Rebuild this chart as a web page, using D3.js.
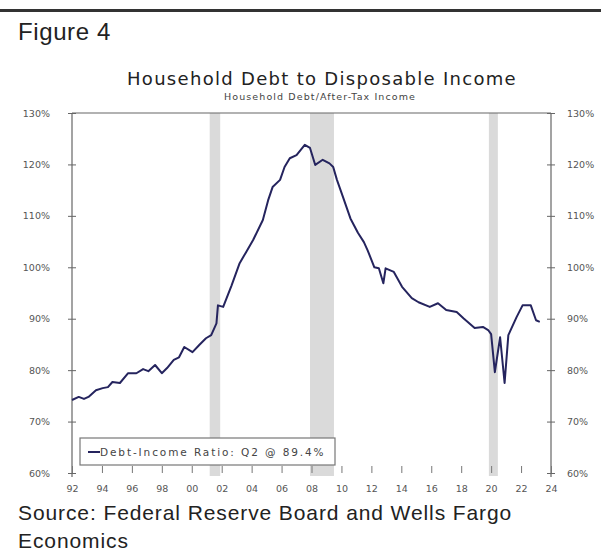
<!DOCTYPE html>
<html>
<head>
<meta charset="utf-8">
<script src="https://cdn.jsdelivr.net/npm/d3@7"></script>
<style>
  body { margin: 0; background: #fff; }
  svg { display: block; }
</style>
</head>
<body>
<script>
// debt / disposable income (year, %)
const years = [1992.0, 1992.45, 1992.8, 1993.1, 1993.6, 1994.05, 1994.4, 1994.7, 1995.2, 1995.75,
  1996.3, 1996.75, 1997.1, 1997.55, 1998.0, 1998.35, 1998.8, 1999.15, 1999.5, 2000.05,
  2000.5, 2000.95, 2001.3, 2001.65, 2001.75, 2002.1, 2002.65, 2003.2, 2003.6, 2004.1,
  2004.75, 2005.1, 2005.4, 2005.9, 2006.2, 2006.55, 2007.0, 2007.55, 2007.9, 2008.25,
  2008.75, 2009.2, 2009.45, 2009.7, 2010.1, 2010.6, 2011.1, 2011.5, 2011.75, 2012.2,
  2012.5, 2012.8, 2012.95, 2013.5, 2014.05, 2014.7, 2015.15, 2015.9, 2016.45, 2017.0,
  2017.7, 2018.15, 2018.9, 2019.45, 2019.8, 2020.0, 2020.25, 2020.6, 2020.9, 2021.15,
  2021.7, 2022.1, 2022.65, 2023.0, 2023.25];
const ratio = [74.2, 74.8, 74.4, 74.8, 76.1, 76.5, 76.7, 77.7, 77.5, 79.4,
  79.4, 80.2, 79.8, 81.0, 79.4, 80.4, 82.0, 82.5, 84.5, 83.5,
  84.9, 86.2, 86.8, 89.1, 92.6, 92.3, 96.4, 100.8, 102.8, 105.3,
  109.2, 113.0, 115.6, 117.0, 119.5, 121.2, 121.8, 123.8, 123.2, 119.9,
  120.9, 120.2, 119.5, 117.0, 113.7, 109.5, 106.7, 104.9, 103.3, 100.0,
  99.8, 96.9, 99.8, 99.1, 96.2, 94.0, 93.2, 92.3, 93.0, 91.7,
  91.3, 90.1, 88.2, 88.4, 87.8, 87.0, 79.6, 86.4, 77.5, 86.8,
  90.3, 92.6, 92.6, 89.7, 89.4];

// recessions (start, end)
const recStart = [2001.2, 2007.9, 2019.85];
const recEnd = [2001.9, 2009.5, 2020.45];

const yTicks = [60, 70, 80, 90, 100, 110, 120, 130];
const xTicks = [1992, 1994, 1996, 1998, 2000, 2002, 2004, 2006, 2008, 2010, 2012, 2014, 2016, 2018, 2020, 2022, 2024];

const W = 601, H = 558;
const svg = d3.select("body").append("svg").attr("width", W).attr("height", H);

const x = d3.scaleLinear().domain([1992, 2024]).range([72, 551]);
const y = d3.scaleLinear().domain([60, 130]).range([473, 113]);

// top rule
svg.append("rect").attr("x", 0).attr("y", 9).attr("width", W).attr("height", 3).attr("fill", "#333");

svg.append("text").attr("x", 18).attr("y", 40)
  .attr("font-family", "Liberation Sans, Arial, sans-serif").attr("font-size", 24).attr("fill", "#222")
  .attr("letter-spacing", 0.6)
  .text("Figure 4");

svg.append("text").attr("x", 322).attr("y", 85).attr("text-anchor", "middle")
  .attr("font-family", "DejaVu Sans, Verdana, sans-serif").attr("font-size", 18).attr("fill", "#222")
  .attr("letter-spacing", 1.3)
  .text("Household Debt to Disposable Income");
svg.append("text").attr("x", 320).attr("y", 100).attr("text-anchor", "middle")
  .attr("font-family", "DejaVu Sans, Verdana, sans-serif").attr("font-size", 9.5).attr("fill", "#444")
  .attr("letter-spacing", 1.1)
  .text("Household Debt/After-Tax Income");

// recession bands
svg.append("g").selectAll("rect").data(recStart).join("rect")
  .attr("x", (d) => x(d))
  .attr("width", (d, i) => x(recEnd[i]) - x(d))
  .attr("y", y(130)).attr("height", y(60) - y(130) + 3)
  .attr("fill", "#dadada");

// top border
svg.append("line").attr("x1", x(1992)).attr("x2", x(2024)).attr("y1", y(130)).attr("y2", y(130))
  .attr("stroke", "#666").attr("stroke-width", 1.2);

const fmt = (d) => d + "%";
const tickFont = (g) => g.selectAll("text")
  .attr("font-family", "DejaVu Sans, Verdana, sans-serif").attr("font-size", 9.5).attr("fill", "#555");

const left = svg.append("g").attr("transform", `translate(${x(1992)},0)`)
  .call(d3.axisLeft(y).tickValues(yTicks).tickFormat(fmt).tickSize(4).tickPadding(18));
left.select(".domain").attr("d", `M0,${y(130)}V${y(60) + 4}`).attr("stroke", "#666").attr("stroke-width", 1.2);
left.selectAll(".tick line").attr("x1", 4).attr("stroke", "#666");
left.call(tickFont);

const right = svg.append("g").attr("transform", `translate(${x(2024)},0)`)
  .call(d3.axisRight(y).tickValues(yTicks).tickFormat(fmt).tickSize(4).tickPadding(12));
right.select(".domain").attr("d", `M0,${y(130)}V${y(60) + 4}`).attr("stroke", "#666").attr("stroke-width", 1.2);
right.selectAll(".tick line").attr("x1", -4).attr("stroke", "#666");
right.call(tickFont);

const bottom = svg.append("g").attr("transform", `translate(0,${y(60)})`)
  .call(d3.axisBottom(x).tickValues(xTicks).tickFormat((d) => String(d).slice(2)).tickSize(0).tickPadding(12));
bottom.select(".domain").remove();
bottom.selectAll(".tick line").attr("y1", -7).attr("y2", 0).attr("stroke", "#777");
bottom.call(tickFont);

// series
const line = d3.line().x((d) => x(d[0])).y((d) => y(d[1]));
svg.append("path").datum(years.map((yr, i) => [yr, ratio[i]]))
  .attr("d", line).attr("fill", "none").attr("stroke", "#25245e")
  .attr("stroke-width", 2).attr("stroke-linejoin", "round");

// legend
const leg = svg.append("g");
leg.append("rect").attr("x", 80).attr("y", 438).attr("width", 255).attr("height", 27)
  .attr("fill", "#fff").attr("stroke", "#777").attr("stroke-width", 1.2);
leg.append("line").attr("x1", 88).attr("x2", 100).attr("y1", 452).attr("y2", 452)
  .attr("stroke", "#25245e").attr("stroke-width", 2);
leg.append("text").attr("x", 100).attr("y", 455.5)
  .attr("font-family", "DejaVu Sans, Verdana, sans-serif").attr("font-size", 10.5).attr("fill", "#444")
  .attr("letter-spacing", 1.9)
  .text("Debt-Income Ratio: Q2 @ 89.4%");

// source
const src = svg.append("g").attr("font-family", "Liberation Sans, Arial, sans-serif")
  .attr("font-size", 21).attr("fill", "#222").attr("letter-spacing", 0.9);
src.append("text").attr("x", 18).attr("y", 520).text("Source: Federal Reserve Board and Wells Fargo");
src.append("text").attr("x", 18).attr("y", 548).text("Economics");
</script>
</body>
</html>
